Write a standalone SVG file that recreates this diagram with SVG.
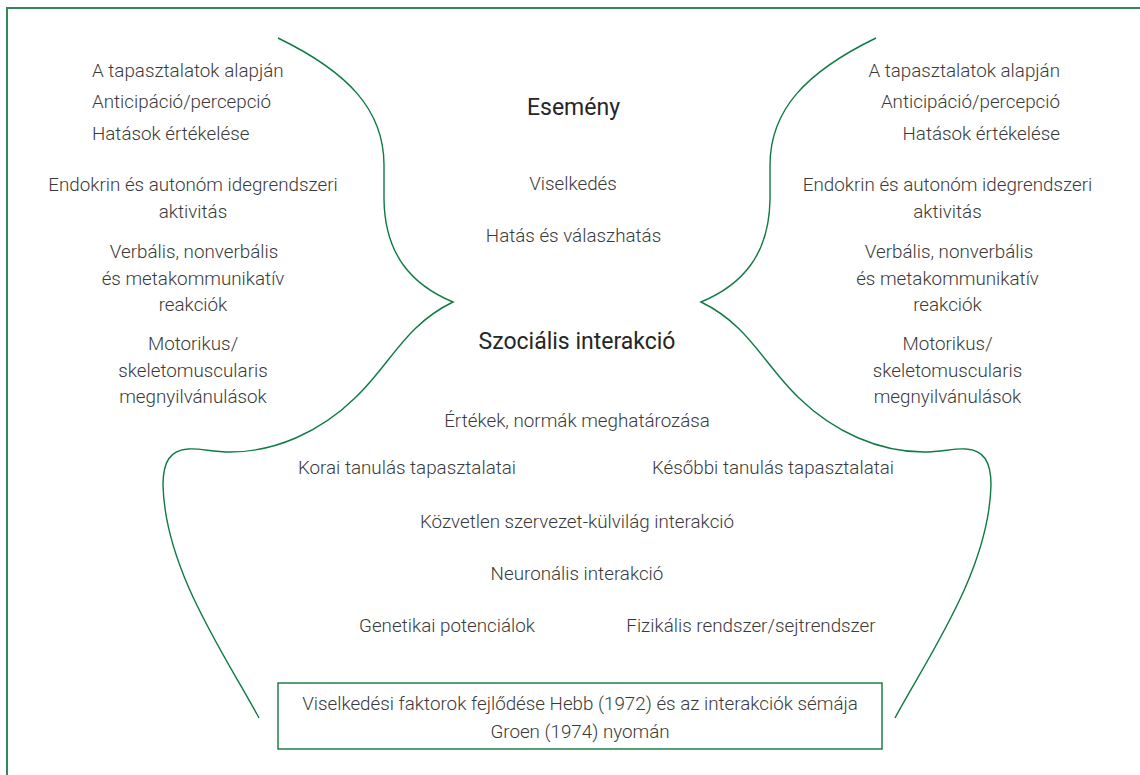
<svg xmlns="http://www.w3.org/2000/svg" width="1140" height="775" viewBox="0 0 1140 775">
<style>
.t{font-family:"Roboto Light",Roboto,"Liberation Sans",sans-serif;font-weight:300;font-size:18.8px;fill:#3a3a3a;text-anchor:middle}
.s{text-anchor:start}
.e{text-anchor:end}
.h{font-family:Roboto,"Liberation Sans",sans-serif;font-weight:400;font-size:23px;fill:#262626;text-anchor:middle}
.c{fill:none;stroke:#0f7a43;stroke-width:1.4}
</style>
<rect x="7" y="8" width="1200" height="800" fill="#fff" stroke="#2e8b57" stroke-width="2"/>
<g id="curves">
<path class="c" d="M278,38 C348,72 384,110 384,165 L384,200 C385,255 412,285 453,302 C405,325 390,365 355,398 C320,432 275,452 230,452 C212,452 200,448 188,449 C170,450 163,462 163,485 C165,570 225,655 259,718"/>
<path class="c" d="M278,38 C348,72 384,110 384,165 L384,200 C385,255 412,285 453,302 C405,325 390,365 355,398 C320,432 275,452 230,452 C212,452 200,448 188,449 C170,450 163,462 163,485 C165,570 225,655 259,718" transform="translate(1154,0) scale(-1,1)"/>
</g>
<g id="left-col">
<text class="t s" x="92" y="77">A tapasztalatok alapján</text>
<text class="t s" x="92" y="108">Anticipáció/percepció</text>
<text class="t s" x="92" y="140">Hatások értékelése</text>
<text class="t" x="193" y="191">Endokrin és autonóm idegrendszeri</text>
<text class="t" x="193" y="218">aktivitás</text>
<text class="t" x="194" y="258">Verbális, nonverbális</text>
<text class="t" x="193" y="285">és metakommunikatív</text>
<text class="t" x="193" y="311">reakciók</text>
<text class="t" x="193" y="350">Motorikus/</text>
<text class="t" x="193" y="377">skeletomuscularis</text>
<text class="t" x="193" y="403">megnyilvánulások</text>
</g>
<g id="right-col">
<text class="t e" x="1060" y="77">A tapasztalatok alapján</text>
<text class="t e" x="1060" y="108">Anticipáció/percepció</text>
<text class="t e" x="1060" y="140">Hatások értékelése</text>
<text class="t" x="947.5" y="191">Endokrin és autonóm idegrendszeri</text>
<text class="t" x="947.5" y="218">aktivitás</text>
<text class="t" x="949" y="258">Verbális, nonverbális</text>
<text class="t" x="947.5" y="285">és metakommunikatív</text>
<text class="t" x="947.5" y="311">reakciók</text>
<text class="t" x="947.5" y="350">Motorikus/</text>
<text class="t" x="947.5" y="377">skeletomuscularis</text>
<text class="t" x="947.5" y="403">megnyilvánulások</text>
</g>
<g id="center">
<text class="h" x="573.5" y="115">Esemény</text>
<text class="t" x="573" y="190">Viselkedés</text>
<text class="t" x="573.5" y="242">Hatás és válaszhatás</text>
<text class="h" x="577" y="349">Szociális interakció</text>
<text class="t" x="577" y="427">Értékek, normák meghatározása</text>
<text class="t" x="407" y="474">Korai tanulás tapasztalatai</text>
<text class="t" x="773" y="474">Későbbi tanulás tapasztalatai</text>
<text class="t" x="577" y="528">Közvetlen szervezet-külvilág interakció</text>
<text class="t" x="577" y="580">Neuronális interakció</text>
<text class="t" x="447" y="632">Genetikai potenciálok</text>
<text class="t" x="751" y="632">Fizikális rendszer/sejtrendszer</text>
</g>
<g id="caption">
<rect x="278" y="683" width="604" height="66" fill="#fff" stroke="#1f7f4a" stroke-width="1.5"/>
<text class="t" x="580" y="710">Viselkedési faktorok fejlődése Hebb (1972) és az interakciók sémája</text>
<text class="t" x="580" y="738">Groen (1974) nyomán</text>
</g>
</svg>
